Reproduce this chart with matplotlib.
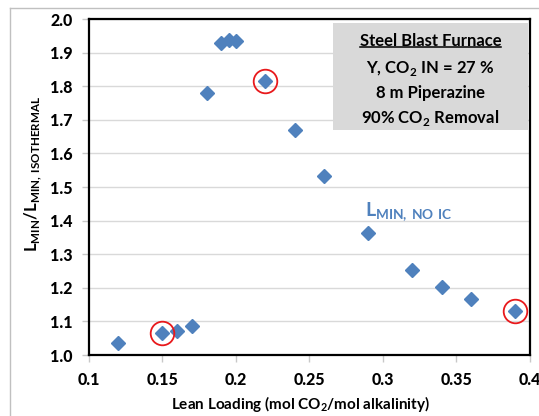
import matplotlib
matplotlib.use("Agg")
import matplotlib.pyplot as plt
from matplotlib.patches import Rectangle
from matplotlib.lines import Line2D

plt.rcParams['font.family'] = ['Lato', 'DejaVu Sans']
plt.rcParams['font.weight'] = 'bold'
plt.rcParams['mathtext.fontset'] = 'custom'
plt.rcParams['mathtext.rm'] = 'Lato:bold'
plt.rcParams['mathtext.bf'] = 'Lato:bold'
plt.rcParams['mathtext.sf'] = 'Lato'

# lean loading vs. normalized minimum solvent rate
lean_loading = [0.12, 0.15, 0.16, 0.17, 0.18, 0.19, 0.195, 0.20, 0.22,
                0.24, 0.26, 0.29, 0.32, 0.34, 0.36, 0.39]
lmin_ratio = [1.036, 1.064, 1.072, 1.087, 1.780, 1.928, 1.937, 1.934, 1.816,
              1.671, 1.534, 1.363, 1.252, 1.203, 1.166, 1.130]
# points singled out with a red ring
ringed_x = [0.15, 0.22, 0.39]
ringed_y = [1.064, 1.816, 1.130]

x_ticks = [0.1, 0.15, 0.2, 0.25, 0.3, 0.35, 0.4]
x_tick_labels = ['0.1', '0.15', '0.2', '0.25', '0.3', '0.35', '0.4']
y_ticks = [1.0, 1.1, 1.2, 1.3, 1.4, 1.5, 1.6, 1.7, 1.8, 1.9, 2.0]
y_tick_labels = ['1.0', '1.1', '1.2', '1.3', '1.4', '1.5', '1.6', '1.7', '1.8', '1.9', '2.0']

box_lines = ["Y, CO$_2$ IN = 27 %", "8 m Piperazine", "90% CO$_2$ Removal"]
box_title = "Steel Blast Furnace"

blue = '#4F81BD'

fig = plt.figure(figsize=(5.39, 4.16), dpi=100)
W, H = 539, 416
ax = fig.add_axes([89 / W, (H - 355) / H, (530 - 89) / W, (355 - 19) / H])

# light outer border of the chart area
fig.add_artist(Line2D([10 / W, 10 / W], [0, 1 - 8 / H], color='#c0c0c0', lw=1))
fig.add_artist(Line2D([10 / W, 1], [1 - 8 / H, 1 - 8 / H], color='#c0c0c0', lw=1))

ax.plot(lean_loading, lmin_ratio, 'D', color=blue, ms=7, zorder=3)
ax.plot(ringed_x, ringed_y, 'o', ms=17, mfc='none', mec='#e8191c', mew=1.3, zorder=4)

ax.set_xlim(0.1, 0.4)
ax.set_ylim(1.0, 2.0)
ax.set_xticks(x_ticks)
ax.set_xticklabels(x_tick_labels, fontweight='black', fontsize=11.5)
ax.set_yticks(y_ticks)
ax.set_yticklabels(y_tick_labels, fontweight='black', fontsize=11.5)
ax.tick_params(axis='both', length=5, width=1, color='#c8c8c8', pad=7)
ax.yaxis.grid(True, color='#d9d9d9', lw=1)
ax.set_axisbelow(True)
for sp in ax.spines.values():
    sp.set_color('black')
    sp.set_linewidth(1.6)

fig.text(300 / W, 1 - 404 / H, "Lean Loading (mol CO$_2$/mol alkalinity)",
         ha='center', va='center', fontsize=11, fontweight='bold')
ax.set_ylabel(r"L$_{\mathrm{MIN}}$/L$_{\mathrm{MIN,\,ISOTHERMAL}}$", fontsize=12, fontweight='bold')
ax.yaxis.set_label_coords(-0.102, 0.54)

ax.text(0.288, 1.41, r"$\mathsf{L}_{\mathsf{MIN,\,NO\ IC}}$", color=blue, fontsize=14)

# info box
ax.add_patch(Rectangle((0.553, 0.67), 0.442, 0.318, transform=ax.transAxes,
                       facecolor='#d9d9d9', edgecolor='none', zorder=5))
title = ax.text(0.774, 0.935, box_title, transform=ax.transAxes, ha='center', va='center',
                fontsize=12, fontweight='bold', zorder=6)
for i, line in enumerate(box_lines):
    ax.text(0.774, 0.853 - 0.074 * i, line, transform=ax.transAxes, ha='center', va='center',
            fontsize=12, fontweight='bold', zorder=6)

# underline the box title
fig.canvas.draw()
bb = title.get_window_extent().transformed(fig.transFigure.inverted())
uy = bb.y0 + 0.004
fig.add_artist(Line2D([bb.x0, bb.x1], [uy, uy], color='black', lw=1.1, zorder=7))

fig.savefig("out.png", dpi=100)
